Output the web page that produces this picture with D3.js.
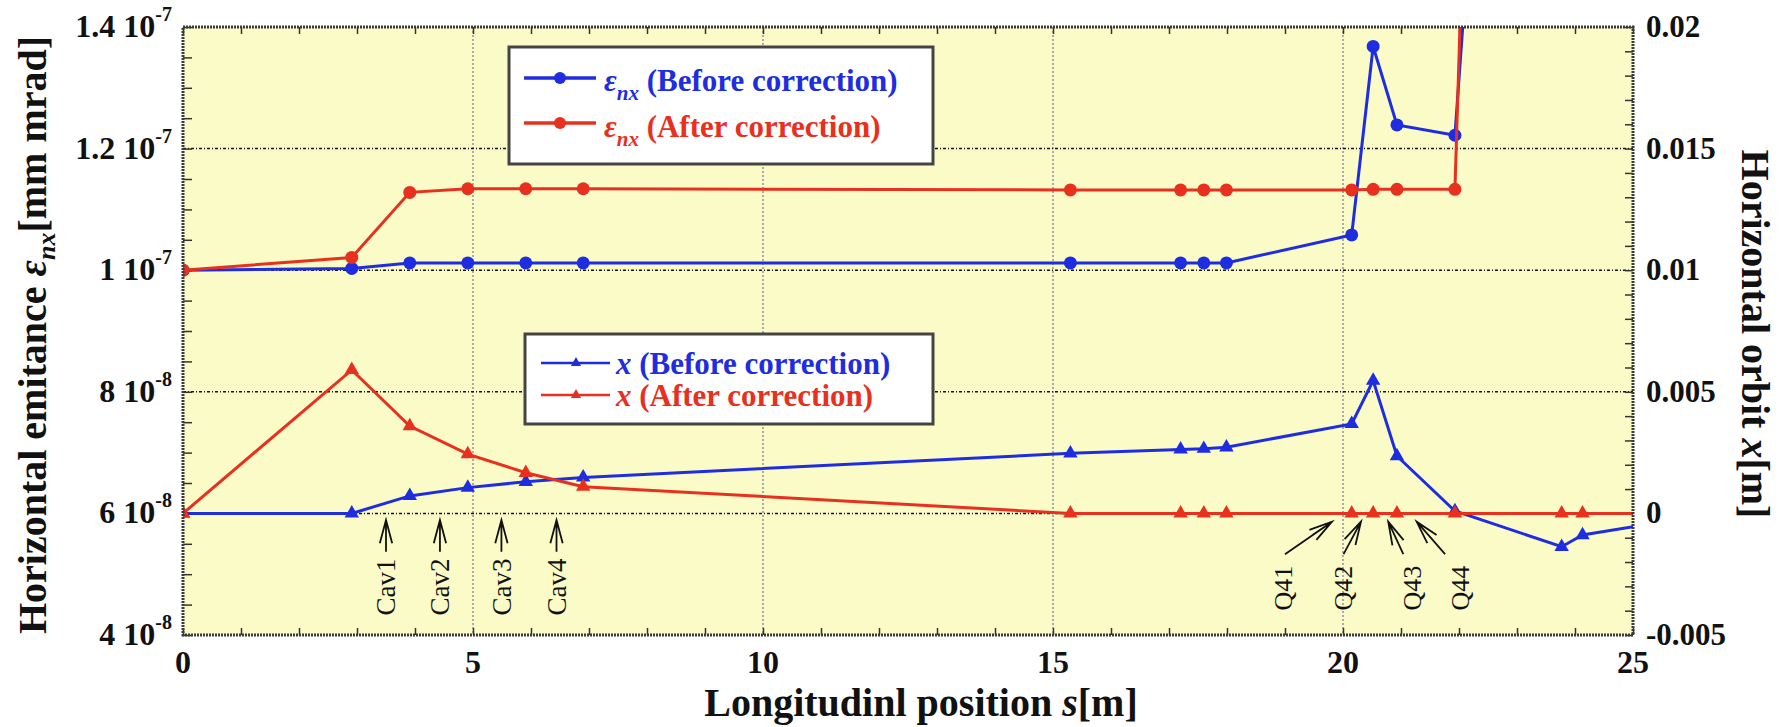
<!DOCTYPE html>
<html lang="en">
<head>
  <meta charset="UTF-8">
  <title>Horizontal emitance and orbit</title>
  <script src="https://d3js.org/d3.v7.min.js"></script>
  <style>
    body { margin: 0; background: #fff; }
    text { font-family: "Liberation Serif", "Times New Roman", serif; }
  </style>
</head>
<body>
  <script>
    "use strict";
    // emittance data (left axis)
    var emitS = [0, 2.91, 3.91, 4.91, 5.91, 6.90, 15.30, 17.20, 17.60, 17.99, 20.15, 20.52, 20.93, 21.93, 22.2];
    var emitBefore = [1.000e-7, 1.003e-7, 1.012e-7, 1.012e-7, 1.012e-7, 1.012e-7, 1.012e-7, 1.012e-7, 1.012e-7, 1.012e-7, 1.058e-7, 1.368e-7, 1.239e-7, 1.222e-7, 1.58e-7];
    var emitAfter = [1.000e-7, 1.021e-7, 1.128e-7, 1.134e-7, 1.134e-7, 1.134e-7, 1.132e-7, 1.132e-7, 1.132e-7, 1.132e-7, 1.132e-7, 1.133e-7, 1.133e-7, 1.133e-7, 1.97e-7];
    // orbit data (right axis)
    var orbitS = [0, 2.91, 3.91, 4.91, 5.91, 6.90, 15.30, 17.20, 17.60, 17.99, 20.15, 20.52, 20.93, 21.93, 23.77, 24.13, 25.3];
    var orbitBefore = [0, 0, 0.00072, 0.00106, 0.00130, 0.00148, 0.00247, 0.00263, 0.00266, 0.00272, 0.00368, 0.00546, 0.00236, 0.0001, -0.00137, -0.00089, -0.00043];
    var orbitAfter = [0, 0.0059, 0.00359, 0.00244, 0.00167, 0.0011, 0, 0, 0, 0, 0, 0, 0, 0, 0, 0, 0];
    // tick labels
    var xTicks = [0, 5, 10, 15, 20, 25];
    var leftTicks = [1.4e-7, 1.2e-7, 1e-7, 8e-8, 6e-8, 4e-8];
    var leftMant = ["1.4 10", "1.2 10", "1 10", "8 10", "6 10", "4 10"];
    var leftExp = ["-7", "-7", "-7", "-8", "-8", "-8"];
    var rightTicks = [0.02, 0.015, 0.01, 0.005, 0, -0.005];
    var rightLabels = ["0.02", "0.015", "0.01", "0.005", "0", "-0.005"];
    // element annotations
    var cavNames = ["Cav1", "Cav2", "Cav3", "Cav4"];
    var cavS = [3.50, 4.43, 5.49, 6.44];
    var qNames = ["Q41", "Q42", "Q43", "Q44"];
    var qLabelS = [18.97, 20.0, 21.19, 22.02];
    var qTailS = [19.0, 20.01, 21.04, 21.76];
    var qTipS = [19.81, 20.31, 20.78, 21.27];

    var W = 1784, H = 727;
    var margin = { top: 27, right: 151, bottom: 92, left: 183 };
    var w = W - margin.left - margin.right;
    var h = H - margin.top - margin.bottom;
    var blue = "#1e2de0", red = "#e8301e";

    var svg = d3.select("body").append("svg")
      .attr("width", W)
      .attr("height", H);
    var g = svg.append("g").attr("transform", "translate(" + margin.left + "," + margin.top + ")");

    var x = d3.scaleLinear().domain([0, 25]).range([0, w]);
    var yL = d3.scaleLinear().domain([4e-8, 1.4e-7]).range([h, 0]);
    var yR = d3.scaleLinear().domain([-0.005, 0.02]).range([h, 0]);

    // background
    g.append("rect").attr("width", w).attr("height", h).attr("fill", "#fbfbc8");

    // grid
    g.selectAll(".vgrid").data([5, 10, 15, 20]).enter().append("line")
      .attr("x1", function (d) { return x(d); }).attr("x2", function (d) { return x(d); })
      .attr("y1", 0).attr("y2", h)
      .attr("stroke", "#aaa").attr("stroke-width", 2).attr("stroke-dasharray", "2,2");
    g.selectAll(".hgrid").data([1.2e-7, 1e-7, 8e-8, 6e-8]).enter().append("line")
      .attr("x1", 0).attr("x2", w)
      .attr("y1", function (d) { return yL(d); }).attr("y2", function (d) { return yL(d); })
      .attr("stroke", "#111").attr("stroke-width", 1.5).attr("stroke-dasharray", "3,2,1,2");

    // inward ticks
    var leftMinor = d3.range(0, 21).map(function (i) { return 4e-8 + i * 5e-9; });
    var rightMinor = d3.range(0, 26).map(function (i) { return -0.005 + i * 0.001; });
    var xMinor = d3.range(0, 26);
    function clean(sel) { sel.select(".domain").remove(); sel.selectAll("line").attr("stroke", "#333").attr("stroke-width", 1.5); }
    g.append("g").call(d3.axisLeft(yL).tickValues(leftMinor).tickSize(-9).tickFormat("")).call(clean);
    g.append("g").attr("transform", "translate(" + w + ",0)")
      .call(d3.axisRight(yR).tickValues(rightMinor).tickSize(-8).tickFormat("")).call(clean);
    g.append("g").call(d3.axisTop(x).tickValues(xMinor).tickSize(-7).tickFormat("")).call(clean);
    g.append("g").attr("transform", "translate(0," + h + ")")
      .call(d3.axisBottom(x).tickValues(xMinor).tickSize(-7).tickFormat("")).call(clean);

    // annotations (under data)
    function arrow(x1, y1, x2, y2) {
      var a = Math.atan2(y2 - y1, x2 - x1), L = 24, da = 0.26;
      var p = "M" + x1 + "," + y1 + "L" + x2 + "," + y2;
      p += "M" + (x2 - L * Math.cos(a - da)) + "," + (y2 - L * Math.sin(a - da)) + "L" + x2 + "," + y2;
      p += "L" + (x2 - L * Math.cos(a + da)) + "," + (y2 - L * Math.sin(a + da));
      p += "M" + (x2 - L * Math.cos(a)) + "," + (y2 - L * Math.sin(a)) + "L" + x2 + "," + y2;
      g.append("path").attr("d", p).attr("fill", "none").attr("stroke", "#111").attr("stroke-width", 1.8);
    }
    cavNames.forEach(function (n, i) {
      arrow(x(cavS[i]), yL(5.37e-8), x(cavS[i]), yL(5.89e-8));
      g.append("text")
        .attr("transform", "translate(" + x(cavS[i]) + "," + yL(4.79e-8) + ") rotate(-90)")
        .attr("dy", "0.35em").attr("text-anchor", "middle")
        .attr("font-size", 27).attr("fill", "#111").text(n);
    });
    qNames.forEach(function (n, i) {
      arrow(x(qTailS[i]), yL(5.33e-8), x(qTipS[i]), yL(5.864e-8));
      g.append("text")
        .attr("transform", "translate(" + x(qLabelS[i]) + "," + yL(4.77e-8) + ") rotate(-90)")
        .attr("dy", "0.35em").attr("text-anchor", "middle")
        .attr("font-size", 26).attr("fill", "#111").text(n);
    });

    // data
    svg.append("clipPath").attr("id", "plotclip").append("rect").attr("width", w).attr("height", h);
    var dataG = g.append("g").attr("clip-path", "url(#plotclip)");

    var tri = d3.symbol().type(d3.symbolTriangle).size(90);
    function drawOrbit(vals, color) {
      var pts = orbitS.map(function (s, i) { return [s, vals[i]]; });
      dataG.append("path").datum(pts)
        .attr("fill", "none").attr("stroke", color).attr("stroke-width", 3)
        .attr("d", d3.line().x(function (d) { return x(d[0]); }).y(function (d) { return yR(d[1]); }));
      dataG.selectAll(null).data(pts).enter().append("path")
        .attr("d", tri)
        .attr("transform", function (d) { return "translate(" + x(d[0]) + "," + yR(d[1]) + ")"; })
        .attr("fill", color);
    }
    function drawEmit(vals, color) {
      var pts = emitS.map(function (s, i) { return [s, vals[i]]; });
      dataG.append("path").datum(pts)
        .attr("fill", "none").attr("stroke", color).attr("stroke-width", 3)
        .attr("d", d3.line().x(function (d) { return x(d[0]); }).y(function (d) { return yL(d[1]); }));
      dataG.selectAll(null).data(pts).enter().append("circle")
        .attr("cx", function (d) { return x(d[0]); })
        .attr("cy", function (d) { return yL(d[1]); })
        .attr("r", 6.5).attr("fill", color);
    }
    drawOrbit(orbitBefore, blue);
    drawOrbit(orbitAfter, red);
    drawEmit(emitBefore, blue);
    drawEmit(emitAfter, red);

    // frame
    g.append("rect").attr("width", w).attr("height", h)
      .attr("fill", "none").attr("stroke", "#3a3a3a").attr("stroke-width", 3).attr("stroke-dasharray", "2,1");

    // tick labels
    var lt = svg.selectAll(".lt").data(leftTicks).enter().append("text")
      .attr("x", margin.left - 11)
      .attr("y", function (d) { return margin.top + yL(d) + 10; })
      .attr("text-anchor", "end").attr("font-weight", "bold").attr("font-size", 32).attr("fill", "#111");
    lt.append("tspan").text(function (d, i) { return leftMant[i]; });
    lt.append("tspan").attr("dy", -16).attr("font-size", 20).text(function (d, i) { return leftExp[i]; });

    svg.selectAll(".rt").data(rightTicks).enter().append("text")
      .attr("x", margin.left + w + 13)
      .attr("y", function (d) { return margin.top + yR(d) + 10; })
      .attr("font-weight", "bold").attr("font-size", 31).attr("fill", "#111")
      .text(function (d, i) { return rightLabels[i]; });

    svg.selectAll(".xt").data(xTicks).enter().append("text")
      .attr("x", function (d) { return margin.left + x(d); })
      .attr("y", margin.top + h + 38)
      .attr("text-anchor", "middle").attr("font-weight", "bold").attr("font-size", 32).attr("fill", "#111")
      .text(function (d) { return d; });

    // axis titles
    var tl = svg.append("text")
      .attr("transform", "translate(46," + (margin.top + h / 2 + 4) + ") rotate(-90)")
      .attr("text-anchor", "middle").attr("font-weight", "bold").attr("font-size", 40).attr("fill", "#111");
    tl.append("tspan").text("Horizontal emitance  ");
    tl.append("tspan").attr("font-style", "italic").text("ε");
    tl.append("tspan").attr("font-style", "italic").attr("font-size", 26).attr("dy", 9).text("nx");
    tl.append("tspan").attr("dy", -9).text("[mm mrad]");

    var tr = svg.append("text")
      .attr("transform", "translate(1742," + (margin.top + h / 2 + 3) + ") rotate(90)")
      .attr("text-anchor", "middle").attr("font-weight", "bold").attr("font-size", 40).attr("fill", "#111");
    tr.append("tspan").text("Horizontal orbit  ");
    tr.append("tspan").attr("font-style", "italic").text("x");
    tr.append("tspan").text("[m]");

    var tx = svg.append("text")
      .attr("x", margin.left + w / 2 + 13).attr("y", 716)
      .attr("text-anchor", "middle").attr("font-weight", "bold").attr("font-size", 40).attr("fill", "#111");
    tx.append("tspan").text("Longitudinl position  ");
    tx.append("tspan").attr("font-style", "italic").text("s");
    tx.append("tspan").text("[m]");

    // legends
    function legendBox(x0, y0, x1, y1) {
      svg.append("rect").attr("x", x0).attr("y", y0).attr("width", x1 - x0).attr("height", y1 - y0)
        .attr("fill", "#fff").attr("stroke", "#444").attr("stroke-width", 3);
    }
    function legendLabel(xp, yp, sym, sub, rest, color) {
      var t = svg.append("text").attr("x", xp).attr("y", yp)
        .attr("font-weight", "bold").attr("font-size", 31).attr("fill", color);
      t.append("tspan").attr("font-style", "italic").text(sym);
      if (sub) {
        t.append("tspan").attr("font-style", "italic").attr("font-size", 21).attr("dy", 9).text(sub);
        t.append("tspan").attr("dy", -9).text(" " + rest);
      } else {
        t.append("tspan").text(" " + rest);
      }
    }
    legendBox(509, 47, 933, 164);
    [[blue, 78, 91, "(Before correction)"], [red, 123, 137, "(After correction)"]].forEach(function (r) {
      svg.append("line").attr("x1", 524).attr("x2", 596).attr("y1", r[1]).attr("y2", r[1])
        .attr("stroke", r[0]).attr("stroke-width", 3.5);
      svg.append("circle").attr("cx", 560).attr("cy", r[1]).attr("r", 6).attr("fill", r[0]);
      legendLabel(604, r[2], "ε", "nx", r[3], r[0]);
    });
    legendBox(525, 334, 933, 424);
    var triS = d3.symbol().type(d3.symbolTriangle).size(45);
    [[blue, 363, 374, "(Before correction)"], [red, 395, 406, "(After correction)"]].forEach(function (r) {
      svg.append("line").attr("x1", 541).attr("x2", 610).attr("y1", r[1]).attr("y2", r[1])
        .attr("stroke", r[0]).attr("stroke-width", 2.5);
      svg.append("path").attr("d", triS).attr("transform", "translate(576," + r[1] + ")").attr("fill", r[0]);
      legendLabel(616, r[2], "x", null, r[3], r[0]);
    });
  </script>
</body>
</html>
